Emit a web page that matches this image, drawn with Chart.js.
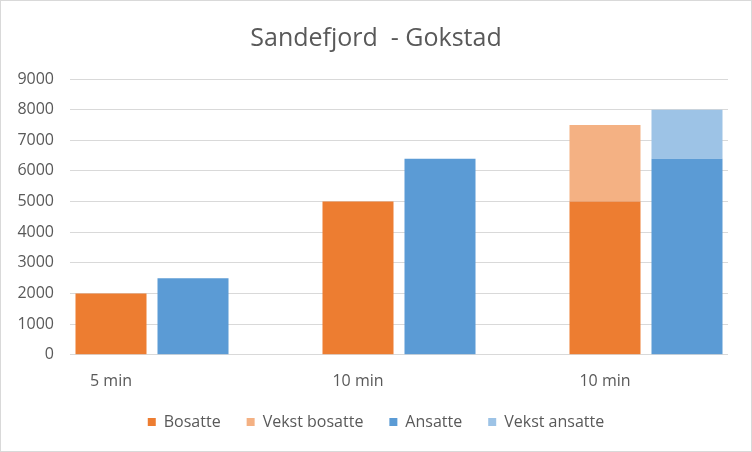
<!DOCTYPE html>
<html>
<head>
<meta charset="utf-8">
<script src="https://cdn.jsdelivr.net/npm/chart.js@4.4.0/dist/chart.umd.min.js"></script>
<style>
  body { margin: 0; background: #fff; }
  #wrap { width: 752px; height: 452px; box-sizing: border-box; border: 1px solid #d9d9d9; }
</style>
</head>
<body>
<div id="wrap"><canvas id="grafico" width="750" height="450"></canvas></div>
<script>
// dados
const kategorier = ["5 min", "10 min", "10 min"];
const bosatte = [2000, 5000, 5000];
const vekstBosatte = [0, 0, 2500];
const ansatte = [2500, 6400, 6400];
const vekstAnsatte = [0, 0, 1600];
const yTicks = [0, 1000, 2000, 3000, 4000, 5000, 6000, 7000, 8000, 9000];

const tekstFarge = "#595959";
const fontFam = "'Open Sans', 'Noto Sans', sans-serif";

function tilPunkter(verdier) {
  return verdier.map((v, i) => ({ x: i, y: v }));
}

// flytter legenden litt opp etter layout (plotområdet blir der det er)
const legendeOpp = {
  id: "legendeOpp",
  afterLayout(chart) {
    if (chart.legend) {
      chart.legend.top -= 12;
      chart.legend.bottom -= 12;
    }
  },
};

new Chart(document.getElementById("grafico"), {
  type: "bar",
  data: {
    datasets: [
      { label: "Bosatte", data: tilPunkter(bosatte), backgroundColor: "#ED7D31", stack: "bosatte" },
      { label: "Vekst bosatte", data: tilPunkter(vekstBosatte), backgroundColor: "#F4B183", stack: "bosatte" },
      { label: "Ansatte", data: tilPunkter(ansatte), backgroundColor: "#5B9BD5", stack: "ansatte" },
      { label: "Vekst ansatte", data: tilPunkter(vekstAnsatte), backgroundColor: "#9DC3E6", stack: "ansatte" },
    ],
  },
  plugins: [legendeOpp],
  options: {
    responsive: false,
    animation: false,
    categoryPercentage: 0.664,
    barPercentage: 0.866,
    layout: { padding: { left: 0, right: 0, bottom: -1 } },
    plugins: {
      title: {
        display: true,
        text: "Sandefjord  - Gokstad",
        color: tekstFarge,
        font: { family: fontFam, size: 25, weight: "normal" },
        padding: { top: 23, bottom: 25 },
      },
      legend: {
        position: "bottom",
        labels: {
          color: tekstFarge,
          font: { family: fontFam, size: 16 },
          boxWidth: 8,
          boxHeight: 8,
          padding: 26,
        },
      },
      tooltip: { enabled: false },
    },
    scales: {
      x: {
        type: "linear",
        offset: false,
        min: -0.332,
        max: 2.332,
        grid: { display: false },
        border: { display: false },
        afterBuildTicks: (scale) => {
          scale.ticks = kategorier.map((k, i) => ({ value: i }));
        },
        ticks: {
          color: tekstFarge,
          font: { family: fontFam, size: 16 },
          labelOffset: -41,
          padding: 9,
          maxRotation: 0,
          autoSkip: false,
          callback: (v) => kategorier[v],
        },
      },
      y: {
        stacked: true,
        min: 0,
        max: 9000,
        afterBuildTicks: (scale) => {
          scale.ticks = yTicks.map((t) => ({ value: t }));
        },
        afterFit: (scale) => {
          scale.width = 69;
        },
        grid: { color: "#d9d9d9", drawTicks: false },
        border: { display: false },
        ticks: {
          color: tekstFarge,
          font: { family: fontFam, size: 16 },
          padding: 16,
          callback: (v) => String(v),
        },
      },
      hoyreMarg: {
        position: "right",
        display: true,
        grid: { display: false },
        border: { display: false },
        ticks: { display: false },
        afterFit: (scale) => {
          scale.width = 23;
        },
      },
    },
  },
});
</script>
</body>
</html>
